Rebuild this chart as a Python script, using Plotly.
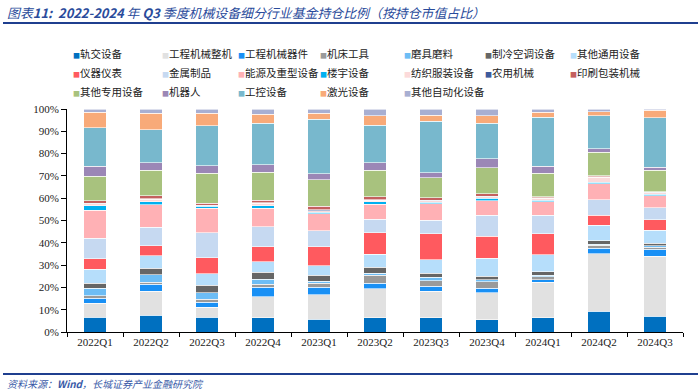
import plotly.graph_objects as go

quarters = ["2022Q1", "2022Q2", "2022Q3", "2022Q4", "2023Q1", "2023Q2",
            "2023Q3", "2023Q4", "2024Q1", "2024Q2", "2024Q3"]

# values in % of fund holdings market value
rail = [6.6, 7.5, 6.6, 6.3, 5.8, 6.3, 6.3, 5.4, 6.3, 9.3, 7.0]
cm_machine = [6.2, 10.7, 4.4, 9.5, 10.8, 13.0, 11.9, 12.1, 15.9, 25.9, 27.0]
cm_parts = [2.4, 3.3, 2.4, 4.2, 3.4, 2.6, 2.4, 2.2, 1.2, 2.3, 3.0]
machine_tool = [1.1, 0.7, 1.2, 1.5, 1.8, 3.5, 2.4, 2.8, 1.4, 1.5, 1.1]
abrasive = [3.3, 3.5, 2.9, 2.2, 1.0, 1.0, 1.6, 0.9, 0.7, 0.3, 0.6]
hvac = [2.2, 3.0, 3.5, 3.2, 2.7, 2.6, 1.8, 1.7, 1.5, 1.7, 1.0]
other_general = [6.3, 5.5, 5.1, 4.7, 4.2, 5.8, 6.1, 7.9, 7.6, 6.9, 6.0]
instrument = [4.7, 4.5, 7.3, 6.6, 8.5, 9.7, 11.5, 10.0, 9.4, 4.5, 4.7]
metal = [9.3, 8.3, 11.2, 9.0, 7.2, 6.1, 6.1, 9.4, 8.4, 6.9, 5.4]
energy_heavy = [12.4, 10.0, 10.8, 8.2, 7.7, 6.6, 7.4, 6.4, 6.1, 7.1, 5.4]
building = [2.1, 1.5, 0.9, 1.3, 0.6, 1.3, 0.6, 1.1, 0.5, 0.8, 0.6]
textile = [1.0, 1.1, 0.4, 1.1, 0.6, 0.6, 0.7, 0.8, 0.9, 2.1, 0.6]
agri = [0.2, 0.2, 0.2, 0.2, 0.6, 0.3, 0.2, 0.2, 0.2, 0.3, 0.2]
printing = [1.0, 1.2, 0.9, 1.1, 1.4, 1.3, 1.1, 1.2, 0.6, 0.4, 0.4]
other_special = [11.1, 11.5, 13.4, 12.5, 11.9, 11.8, 9.0, 11.6, 10.5, 10.5, 9.5]
robot = [4.4, 3.5, 3.3, 3.3, 2.7, 3.4, 2.4, 3.9, 3.1, 1.6, 1.4]
industrial_ctrl = [17.2, 14.6, 17.9, 18.8, 24.6, 16.8, 23.0, 16.1, 22.0, 14.9, 22.2]
laser = [7.0, 7.5, 5.7, 3.9, 2.6, 4.2, 2.7, 3.3, 2.2, 1.8, 3.3]
other_auto = [1.5, 1.9, 1.9, 2.4, 1.9, 3.1, 2.8, 3.0, 1.5, 1.2, 0.6]

series_names = ["轨交设备", "工程机械整机", "工程机械器件", "机床工具", "磨具磨料",
                "制冷空调设备", "其他通用设备", "仪器仪表", "金属制品", "能源及重型设备",
                "楼宇设备", "纺织服装设备", "农用机械", "印刷包装机械", "其他专用设备",
                "机器人", "工控设备", "激光设备", "其他自动化设备"]
series_values = [rail, cm_machine, cm_parts, machine_tool, abrasive, hvac, other_general,
                 instrument, metal, energy_heavy, building, textile, agri, printing,
                 other_special, robot, industrial_ctrl, laser, other_auto]
series_colors = ["#0070C0", "#E1E1E1", "#1990F5", "#9A9A9A", "#6DBDF5", "#666666",
                 "#B6DEFB", "#FF5A5F", "#C6D9F1", "#FFB1B5", "#00B0F0", "#FCDADA",
                 "#3E5A9C", "#C4605F", "#A8C27E", "#9B87B6", "#78B8CD", "#F8AA79",
                 "#A8AFD2"]

# legend column key positions (pixels), 7 columns, row-major ordering
legend_col_key_x = [71, 160, 236, 318, 402, 483, 568]
N_COLS = 7

# plot area in pixels: x 67..683, y 109..332
L, R, T, B = 67, 683, 109, 332
W, H = R - L, B - T


def px(xp):
    return (xp - L) / W


def py(yp):
    return (B - yp) / H


fig = go.Figure()
for name, vals, col in zip(series_names, series_values, series_colors):
    fig.add_trace(go.Bar(
        x=quarters, y=vals, name=name, showlegend=False,
        marker=dict(color=col, line=dict(color="white", width=0.6)),
    ))

# legend entries with a small square key glyph just before the label,
# one vertical legend per column
for i, (name, col) in enumerate(zip(series_names, series_colors)):
    c = i % N_COLS
    lg = "legend" if c == 0 else f"legend{c + 1}"
    fig.add_trace(go.Scatter(
        x=[None], y=[None], mode="markers", legend=lg,
        name=f"<span style='color:{col};font-size:7px'>■</span>{name}",
        marker=dict(symbol="square", size=1, color="rgba(0,0,0,0)",
                    line=dict(width=0, color="rgba(0,0,0,0)")),
        showlegend=True, hoverinfo="skip",
    ))

legend_common = dict(
    orientation="v", xanchor="left", yanchor="top", traceorder="normal",
    font=dict(family="Noto Sans CJK SC", size=10.5, color="#222222"),
    bgcolor="rgba(0,0,0,0)", tracegroupgap=0, itemclick=False,
    itemdoubleclick=False,
)
legend_layout = {}
for c in range(N_COLS):
    key = "legend" if c == 0 else f"legend{c + 1}"
    legend_layout[key] = dict(legend_common, x=px(legend_col_key_x[c] - 38), y=py(39))

fig.update_layout(
    width=700, height=392,
    margin=dict(l=L, r=700 - R, t=T, b=392 - B, autoexpand=False),
    barmode="stack", bargap=0.6,
    plot_bgcolor="white", paper_bgcolor="white",
    font=dict(family="Liberation Serif, Noto Sans CJK SC", size=11, color="#222222"),
    showlegend=True,
    xaxis=dict(
        showline=True, linecolor="black", linewidth=1,
        ticks="outside", tickson="boundaries", ticklen=4, tickcolor="black",
        tickfont=dict(family="Liberation Serif", size=11, color="#222222"),
        showgrid=False, zeroline=False,
    ),
    yaxis=dict(
        range=[0, 100], dtick=10, ticksuffix="%",
        showline=True, linecolor="black", linewidth=1,
        ticks="outside", ticklen=5, tickcolor="black",
        tickfont=dict(family="Liberation Serif", size=11, color="#222222"),
        showgrid=False, zeroline=False,
    ),
    **legend_layout,
)

fig.add_shape(type="line", xref="paper", yref="paper",
              x0=px(3), x1=px(698), y0=py(23), y1=py(23),
              line=dict(color="#1F3F8F", width=2))
fig.add_shape(type="line", xref="paper", yref="paper",
              x0=px(3), x1=px(698), y0=py(374), y1=py(374),
              line=dict(color="#1F3F8F", width=2))

fig.add_annotation(
    xref="paper", yref="paper", x=px(5), y=py(12), xanchor="left", yanchor="middle",
    showarrow=False,
    text="<i>图表<b>11:  2022-2024</b> 年 <b>Q3</b> 季度机械设备细分行业基金持仓比例（按持仓市值占比）</i>",
    font=dict(family="Noto Sans CJK SC", size=12.9, color="#2A4B9B"),
)
fig.add_annotation(
    xref="paper", yref="paper", x=px(5), y=py(383), xanchor="left", yanchor="middle",
    showarrow=False,
    text="<i>资料来源：<b>Wind</b>，长城证券产业金融研究院</i>",
    font=dict(family="Noto Sans CJK SC", size=10, color="#3A5BA8"),
)

fig.write_html("out.html", config={"displayModeBar": False},
               post_script="document.body.style.margin='0px';")
